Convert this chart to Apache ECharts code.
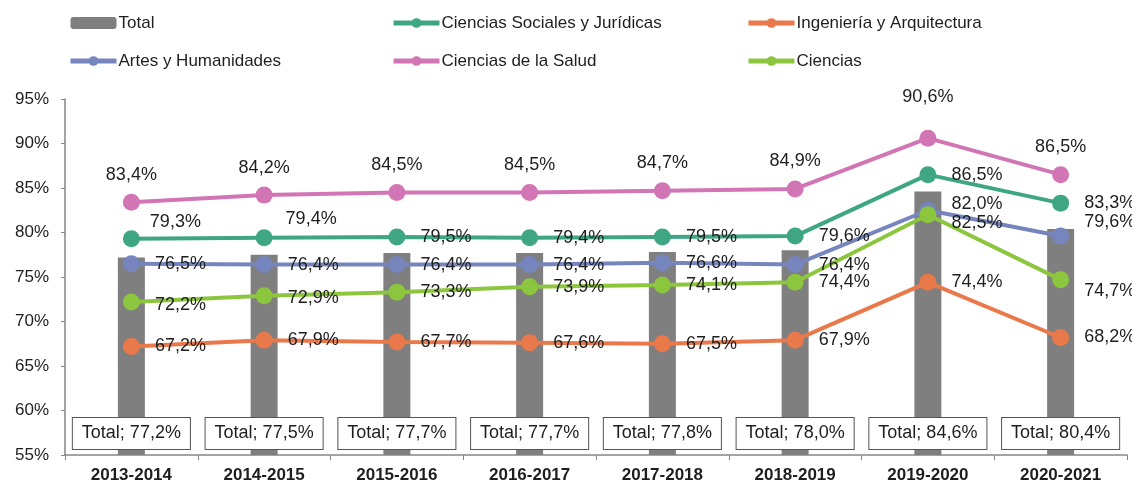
<!DOCTYPE html>
<html>
<head>
<meta charset="utf-8">
<script src="https://cdn.jsdelivr.net/npm/echarts@6/dist/echarts.min.js"></script>
<style>
  html, body { margin: 0; padding: 0; background: #fff; }
  #chart { width: 1132px; height: 484px; }
</style>
</head>
<body>
<div id="chart"></div>
<script>
  // cursos
  var cursos = ['2013-2014', '2014-2015', '2015-2016', '2016-2017', '2017-2018', '2018-2019', '2019-2020', '2020-2021'];
  var yTicks = [55, 60, 65, 70, 75, 80, 85, 90, 95];

  var total = [77.2, 77.5, 77.7, 77.7, 77.8, 78.0, 84.6, 80.4];
  var sociales = [79.3, 79.4, 79.5, 79.4, 79.5, 79.6, 86.5, 83.3];
  var ingenieria = [67.2, 67.9, 67.7, 67.6, 67.5, 67.9, 74.4, 68.2];
  var artes = [76.5, 76.4, 76.4, 76.4, 76.6, 76.4, 82.5, 79.6];
  var salud = [83.4, 84.2, 84.5, 84.5, 84.7, 84.9, 90.6, 86.5];
  var ciencias = [72.2, 72.9, 73.3, 73.9, 74.1, 74.4, 82.0, 74.7];

  var txt = '#1e1e1e';
  var fmt = function (v) { return v.toFixed(1).replace('.', ',') + '%'; };

  // etiquetas movidas a mano, como en el original
  function puntos(vals, pos, overrides) {
    return vals.map(function (v, i) {
      var o = overrides[i];
      if (!o) return v;
      return { value: v, label: { position: o.pos || pos, offset: o.off } };
    });
  }

  function linea(name, color, vals, pos, overrides) {
    return {
      name: name,
      type: 'line',
      data: puntos(vals, pos, overrides),
      symbol: 'circle',
      symbolSize: 17,
      z: 3,
      lineStyle: { width: 4, color: color },
      itemStyle: { color: color },
      label: {
        show: true,
        position: pos,
        distance: pos === 'top' ? 10 : 15,
        color: txt,
        fontSize: 18,
        fontFamily: 'Liberation Sans, Arial',
        formatter: function (p) { return fmt(p.value); }
      }
    };
  }

  var myChart = echarts.init(document.getElementById('chart'));

  var legendBase = {
    orient: 'vertical',
    top: 8,
    itemWidth: 46,
    itemHeight: 12,
    itemGap: 18,
    lineStyle: { width: 5 },
    textStyle: { fontSize: 17, color: txt, fontFamily: 'Liberation Sans, Arial', lineHeight: 20, padding: [0, 0, 0, -3] }
  };

  myChart.setOption({
    animation: false,
    legend: [
      Object.assign({}, legendBase, { left: 63, data: ['Total', 'Artes y Humanidades'] }),
      Object.assign({}, legendBase, { left: 386, data: ['Ciencias Sociales y Jurídicas', 'Ciencias de la Salud'] }),
      Object.assign({}, legendBase, { left: 741, data: ['Ingeniería y Arquitectura', 'Ciencias'] })
    ],
    grid: { left: 65, right: 5, top: 99, bottom: 29 },
    xAxis: {
      type: 'category',
      data: cursos,
      axisLine: { lineStyle: { color: '#868686', width: 1.5 } },
      axisTick: { show: true, length: 5, lineStyle: { color: '#868686' } },
      axisLabel: { color: txt, fontSize: 17, fontWeight: 'bold', margin: 12, fontFamily: 'Liberation Sans, Arial' }
    },
    yAxis: {
      type: 'value',
      min: yTicks[0],
      max: yTicks[yTicks.length - 1],
      interval: 5,
      splitLine: { show: false },
      axisLine: { show: true, lineStyle: { color: '#868686', width: 1.5 } },
      axisTick: { show: true, length: 4, lineStyle: { color: '#868686' } },
      axisLabel: { color: txt, fontSize: 17, margin: 16, fontFamily: 'Liberation Sans, Arial', formatter: '{value}%' }
    },
    series: [
      {
        name: 'Total',
        type: 'bar',
        data: total,
        barWidth: 27,
        z: 2,
        itemStyle: { color: '#7f7f7f' },
        label: {
          show: true,
          position: 'insideBottom',
          distance: 6,
          color: txt,
          fontSize: 18,
          lineHeight: 19,
          fontFamily: 'Liberation Sans, Arial',
          backgroundColor: '#fff',
          borderColor: '#555',
          borderWidth: 1,
          padding: [6, 9],
          formatter: function (p) { return 'Total; ' + fmt(p.value); }
        }
      },
      linea('Ciencias Sociales y Jurídicas', '#3fa683', sociales, 'right', {
        0: { pos: 'top', off: [44, 16] },
        1: { pos: 'top', off: [47, 14] }
      }),
      linea('Ingeniería y Arquitectura', '#e9794b', ingenieria, 'right', {}),
      linea('Artes y Humanidades', '#7685bd', artes, 'right', {
        6: { off: [0, 13] },
        7: { off: [0, -14] }
      }),
      linea('Ciencias de la Salud', '#d175b4', salud, 'top', {
        6: { off: [0, -14] }
      }),
      linea('Ciencias', '#8cc63e', ciencias, 'right', {
        0: { off: [0, 3] },
        1: { off: [0, 2] },
        6: { off: [0, -11] },
        7: { off: [0, 11] }
      })
    ]
  });
</script>
</body>
</html>
